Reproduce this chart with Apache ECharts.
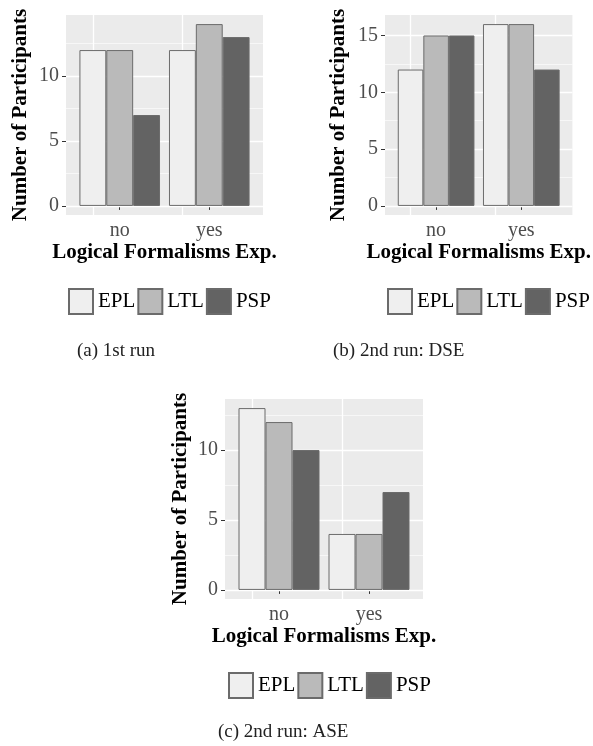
<!DOCTYPE html>
<html>
<head>
<meta charset="utf-8">
<script src="https://cdn.jsdelivr.net/npm/echarts@6/dist/echarts.min.js"></script>
<style>
  html, body { margin: 0; padding: 0; background: #fff; }
  #main { width: 593px; height: 746px; }
</style>
</head>
<body>
<div id="main"></div>
<script>
// categories and groups
var categories = ['no', 'yes'];
var groupNames = ['EPL', 'LTL', 'PSP'];

// (a) 1st run
var run1EPL = [12, 12];
var run1LTL = [12, 14];
var run1PSP = [7, 13];
// (b) 2nd run: DSE
var dseEPL = [12, 16];
var dseLTL = [15, 16];
var dsePSP = [15, 12];
// (c) 2nd run: ASE
var aseEPL = [13, 4];
var aseLTL = [12, 4];
var asePSP = [10, 7];

// tick labels
var yTicksA = [0, 5, 10];
var yTicksB = [0, 5, 10, 15];
var yTicksC = [0, 5, 10];
var yMinorA = [2.5, 7.5, 12.5];
var yMinorB = [2.5, 7.5, 12.5];
var yMinorC = [2.5, 7.5, 12.5];

var captions = ['(a) 1st run', '(b) 2nd run: DSE', '(c) 2nd run: ASE'];

var fills = ['#efefef', '#bababa', '#636363'];
var serif = 'Liberation Serif';

var panels = [
  { data: [run1EPL, run1LTL, run1PSP], ticks: yTicksA, minor: yMinorA,
    grid: { left: 66, top: 15, width: 197, height: 200 }, yGap: 35, xGap: 26,
    legend: { left: 68, top: 288 }, caption: { left: 77, top: 342 } },
  { data: [dseEPL, dseLTL, dsePSP], ticks: yTicksB, minor: yMinorB,
    grid: { left: 385, top: 15, width: 198, height: 200 }, yGap: 36, xGap: 21,
    legend: { left: 387, top: 288 }, caption: { left: 333, top: 342 } },
  { data: [aseEPL, aseLTL, asePSP], ticks: yTicksC, minor: yMinorC,
    grid: { left: 225, top: 399, width: 198, height: 200 }, yGap: 34, xGap: 27,
    legend: { left: 228, top: 672 }, caption: { left: 218, top: 723 } }
];

var grids = [], xAxes = [], yAxes = [], series = [], legends = [], titles = [];

panels.forEach(function (p, k) {
  var all = [].concat.apply([], p.data);
  var top = Math.max.apply(null, all);
  var pad = top * 0.05;

  grids.push({
    left: p.grid.left, top: p.grid.top, width: p.grid.width, height: p.grid.height,
    show: true, backgroundColor: '#ebebeb', borderWidth: 0
  });

  xAxes.push({
    gridIndex: k,
    type: 'value',
    min: 0.4,
    max: categories.length + 0.6,
    name: 'Logical Formalisms Exp.',
    nameLocation: 'middle',
    nameGap: p.xGap,
    nameTextStyle: { fontFamily: serif, fontWeight: 'bold', fontSize: 21, color: '#000' },
    axisLine: { show: false },
    axisTick: { show: true, length: 4, customValues: categories.map(function (c, i) { return i + 1; }),
      lineStyle: { color: '#333', width: 1 } },
    axisLabel: { show: true, margin: 6, customValues: categories.map(function (c, i) { return i + 1; }),
      formatter: function (v) { return categories[Math.round(v) - 1] || ''; },
      fontFamily: serif, fontSize: 20, color: '#4d4d4d' },
    splitLine: { show: false }
  });

  yAxes.push({
    gridIndex: k,
    type: 'value',
    min: -pad,
    max: top + pad,
    name: 'Number of Participants',
    nameLocation: 'middle',
    nameGap: p.yGap,
    nameTextStyle: { fontFamily: serif, fontWeight: 'bold', fontSize: 21, color: '#000' },
    axisLine: { show: false },
    axisTick: { show: true, length: 4, customValues: p.ticks, lineStyle: { color: '#333', width: 1 } },
    axisLabel: { show: true, margin: 7, customValues: p.ticks,
      fontFamily: serif, fontSize: 20, color: '#4d4d4d' },
    splitLine: { show: false }
  });

  // white panel grid lines
  var lines = [];
  p.ticks.forEach(function (v) { lines.push({ yAxis: v, lineStyle: { width: 1.3 } }); });
  p.minor.forEach(function (v) { lines.push({ yAxis: v, lineStyle: { width: 0.6 } }); });
  categories.forEach(function (c, i) { lines.push({ xAxis: i + 1, lineStyle: { width: 1.3 } }); });

  groupNames.forEach(function (name, j) {
    var s = {
      name: name,
      type: 'bar',
      xAxisIndex: k,
      yAxisIndex: k,
      z: 2,
      barGap: '0%',
      barCategoryGap: '10%',
      itemStyle: { color: fills[j], borderColor: '#6b6b6b', borderWidth: 1 },
      data: p.data[j].map(function (v, i) { return [i + 1, v]; })
    };
    if (j === 0) {
      s.markLine = {
        silent: true, z: 1, symbol: ['none', 'none'], animation: false,
        label: { show: false },
        lineStyle: { color: '#ffffff', type: 'solid' },
        data: lines
      };
    }
    series.push(s);
  });

  legends.push({
    left: p.legend.left, top: p.legend.top,
    orient: 'horizontal',
    padding: 0,
    itemWidth: 24, itemHeight: 25, itemGap: 2,
    icon: 'rect',
    selectedMode: false,
    data: groupNames,
    textStyle: { fontFamily: serif, fontSize: 21, color: '#000' }
  });

  titles.push({
    text: captions[k],
    left: p.caption.left, top: p.caption.top,
    padding: 0,
    textStyle: { fontFamily: serif, fontWeight: 'normal', fontSize: 19, color: '#222' }
  });
});

var chart = echarts.init(document.getElementById('main'), null, { renderer: 'canvas' });
chart.setOption({
  animation: false,
  backgroundColor: '#fff',
  textStyle: { fontFamily: serif },
  title: titles,
  legend: legends,
  grid: grids,
  xAxis: xAxes,
  yAxis: yAxes,
  series: series
});
</script>
</body>
</html>
